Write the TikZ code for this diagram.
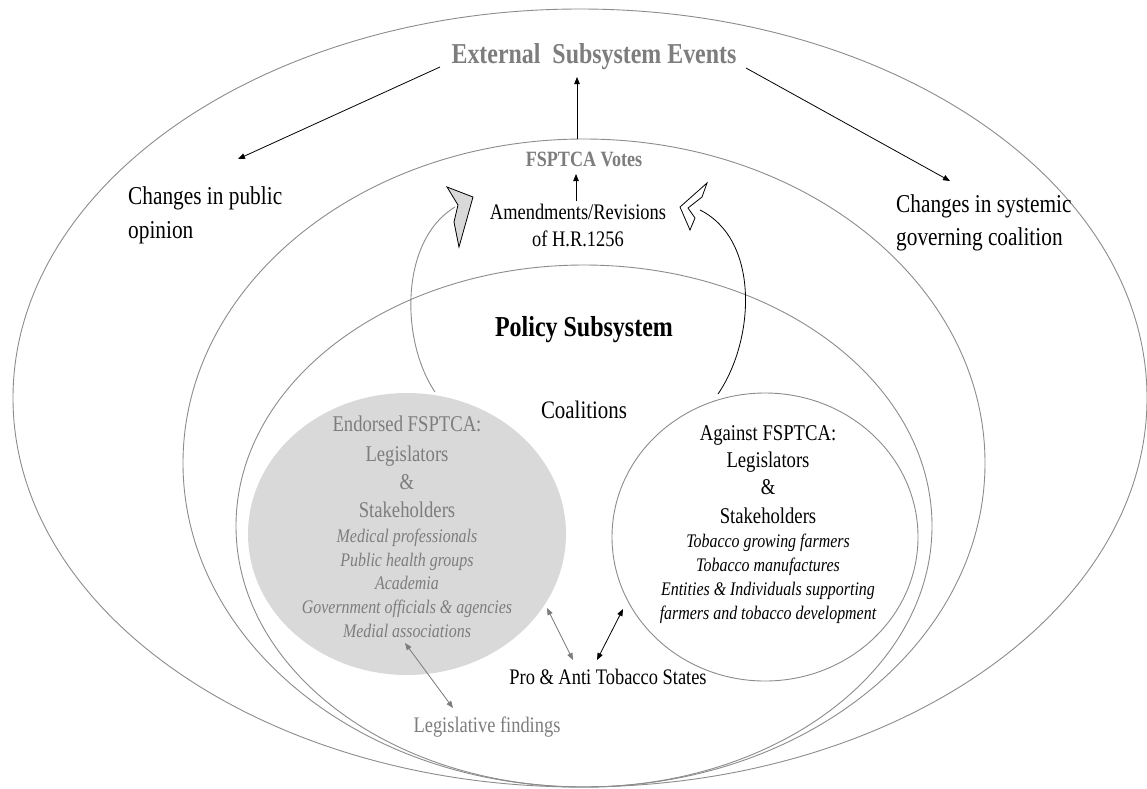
\documentclass[tikz,border=0pt]{standalone}
\usepackage{fontspec}
\setmainfont{Liberation Serif}[FakeStretch=0.83]
\usetikzlibrary{arrows.meta}
\definecolor{ellgray}{RGB}{140,140,140}
\definecolor{txtgray}{RGB}{125,125,125}
\definecolor{fillgray}{RGB}{217,217,217}
\newcommand{\fsz}[1]{\fontsize{#1}{#1}\selectfont}
\tikzset{
  ring/.style={draw=ellgray, line width=0.9pt},
  lbl/.style={inner sep=0pt, anchor=base},
  lblw/.style={inner sep=0pt, anchor=base west},
  side/.style={font=\fsz{25.7}},
  head/.style={font=\fsz{22.5}},
  item/.style={font=\itshape\fsz{19.2}},
  arr/.style={line width=0.8pt, -{Triangle[length=7pt,width=5.5pt]}},
  darr/.style={line width=0.8pt, {Triangle[length=7pt,width=5.5pt]}-{Triangle[length=7pt,width=5.5pt]}},
}
\begin{document}
\begin{tikzpicture}[x=1pt,y=-1pt]
\useasboundingbox (0,0) rectangle (1147,788);
\fill[white] (0,0) rectangle (1147,788);

% nested ellipses
\draw[ring] (580,398) ellipse [x radius=567, y radius=389];
\draw[ring] (584,463) ellipse [x radius=401, y radius=324];
\draw[ring] (584,526) ellipse [x radius=348, y radius=261];
\fill[fillgray] (407,534) ellipse [x radius=159, y radius=141];
\draw[ring] (765,537) ellipse [x radius=153, y radius=144];

% top texts
\node[lbl, font=\bfseries\fsz{28.8}, text=txtgray] (ext) at (594,63) {External\ \ Subsystem Events};
\node[lblw, side] (pub1) at (128,204) {Changes in public};
\node[lblw, side] (pub2) at (128,238) {opinion};
\node[lblw, side] (sys1) at (896,212) {Changes in systemic};
\node[lblw, side] (sys2) at (896,245) {governing coalition};
\node[lbl, font=\bfseries\fsz{21.8}, text=txtgray] (votes) at (584,166) {FSPTCA Votes};
\node[lbl, font=\fsz{22.2}] (amd1) at (578,219) {Amendments/Revisions};
\node[lbl, font=\fsz{22.2}] (amd2) at (578,246) {of H.R.1256};
\node[lbl, font=\bfseries\fsz{28.9}] (pol) at (584,336) {Policy Subsystem};
\node[lbl, font=\fsz{25.2}] (coal) at (584,418) {Coalitions};

% endorsed coalition
\begin{scope}[text=txtgray]
\node[lbl, head] (en1) at (407,431) {Endorsed FSPTCA:};
\node[lbl, head] (en2) at (407,461) {Legislators};
\node[lbl, head] (en3) at (407,489) {\&};
\node[lbl, head] (en4) at (407,517) {Stakeholders};
\node[lbl, item] (en5) at (407,542) {Medical professionals};
\node[lbl, item] (en6) at (407,566) {Public health groups};
\node[lbl, item] (en7) at (407,589) {Academia};
\node[lbl, item] (en8) at (407,613) {Government officials \& agencies};
\node[lbl, item] (en9) at (407,637) {Medial associations};
\end{scope}

% against coalition
\node[lbl, head] (ag1) at (768,440) {Against FSPTCA:};
\node[lbl, head] (ag2) at (768,467) {Legislators};
\node[lbl, head] (ag3) at (768,494) {\&};
\node[lbl, head] (ag4) at (768,523) {Stakeholders};
\node[lbl, item] (ag5) at (768,547) {Tobacco growing farmers};
\node[lbl, item] (ag6) at (768,571) {Tobacco manufactures};
\node[lbl, item] (ag7) at (768,595) {Entities \& Individuals supporting};
\node[lbl, item] (ag8) at (768,619) {farmers and tobacco development};

\node[lbl, font=\fsz{22.2}] (pro) at (608,684) {Pro \& Anti Tobacco States};
\node[lbl, font=\fsz{22.2}, text=txtgray] (leg) at (487,732) {Legislative findings};

% connector end points
\coordinate (extL) at (440,67);
\coordinate (pubT) at (238,159);
\coordinate (extR) at (746,68);
\coordinate (sysT) at (950,181);
\coordinate (votesT) at (577,139);
\coordinate (extB) at (577,77);
\coordinate (amdT) at (576,201);
\coordinate (votesB) at (576,174);
\coordinate (enB) at (405,643);
\coordinate (legT) at (453,708);
\coordinate (enR) at (547,608);
\coordinate (proL) at (573,660);
\coordinate (proR) at (597,660);
\coordinate (agL) at (623,609);
\coordinate (arcL0) at (435,392);
\coordinate (arcL1) at (455,207);
\coordinate (arcR0) at (718,394);
\coordinate (arcR1) at (700,210);

\draw[arr] (extL) -- (pubT);
\draw[arr] (extR) -- (sysT);
\draw[arr] (votesT) -- (extB);
\draw[arr] (amdT) -- (votesB);
\draw[darr, draw=txtgray, fill=txtgray] (enB) -- (legT);
\draw[darr, draw=txtgray, fill=txtgray] (enR) -- (proL);
\draw[darr] (proR) -- (agL);

% curved feedback arcs
\draw[draw=ellgray, line width=0.9pt] (arcL0) .. controls (400,340) and (400,240) .. (arcL1);
\draw[black, line width=0.8pt] (arcR0) .. controls (755,340) and (760,240) .. (arcR1);

% chevrons
\draw[black, fill=fillgray, line width=0.8pt] (447,187) -- (473,197) -- (459,247) -- (454,222) -- (458,205) -- cycle;
\draw[black, fill=white, line width=0.8pt] (707,183) -- (680,207) -- (690,230) -- (695,218) -- (688,208) -- (702,197) -- cycle;
\end{tikzpicture}
\end{document}
